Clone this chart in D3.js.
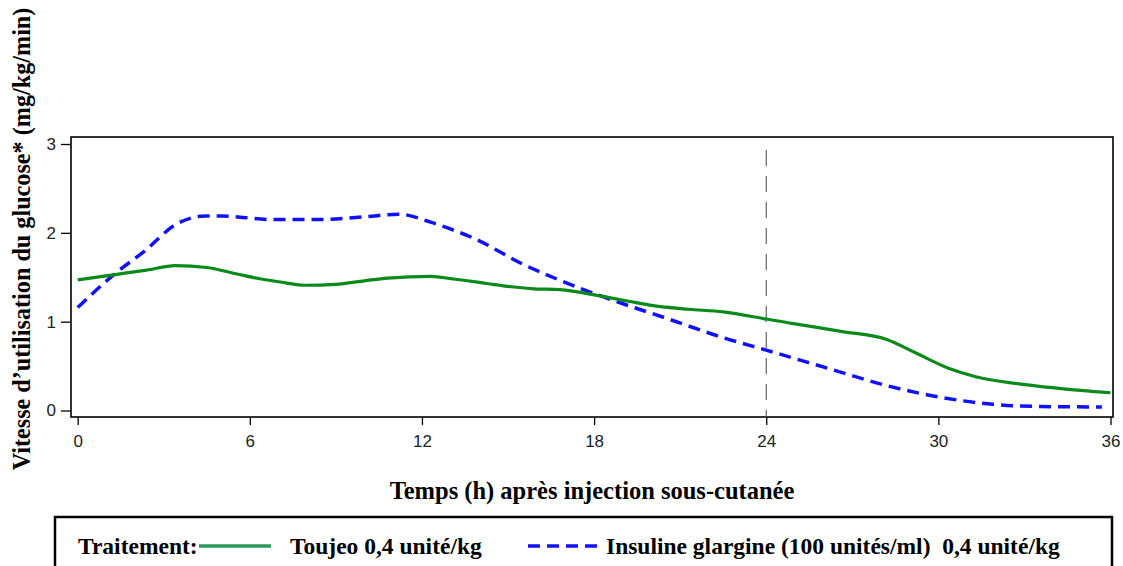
<!DOCTYPE html>
<html>
<head>
<meta charset="utf-8">
<script src="https://cdn.jsdelivr.net/npm/d3@7"></script>
<style>
  html, body { margin: 0; padding: 0; background: #fff; }
  svg { display: block; }
</style>
</head>
<body>
<svg id="chart" width="1123" height="566"></svg>
<script>
// ---- data ----
const toujeoHours  = [0, 1.3, 2.4, 3.4, 4.5, 5.5, 6.4, 7.2, 7.9, 9.0, 10.0, 10.8, 12.3, 13.1, 14.25, 15.2, 15.9, 16.8, 18.2, 19.2, 20.06, 21.3, 22.5, 24.0, 24.9, 25.5, 26.6, 28.2, 29.2, 30.4, 31.3, 32.8, 34.2, 36.0];
const toujeoValues = [1.47, 1.53, 1.58, 1.63, 1.61, 1.54, 1.48, 1.44, 1.41, 1.42, 1.46, 1.49, 1.51, 1.48, 1.43, 1.39, 1.37, 1.36, 1.29, 1.23, 1.18, 1.14, 1.11, 1.03, 0.98, 0.95, 0.89, 0.80, 0.65, 0.47, 0.38, 0.30, 0.25, 0.20];

const glargineHours  = [0, 1.3, 2.35, 3.4, 4.45, 5.0, 6.75, 8.5, 10.0, 11.2, 12.3, 13.1, 13.8, 15.5, 16.7, 18.4, 20.5, 22.5, 24.0, 26.1, 28.2, 30.05, 31.9, 33.6, 35.7];
const glargineValues = [1.16, 1.54, 1.80, 2.09, 2.19, 2.19, 2.15, 2.15, 2.18, 2.21, 2.12, 2.03, 1.94, 1.65, 1.48, 1.27, 1.04, 0.82, 0.68, 0.48, 0.28, 0.15, 0.07, 0.045, 0.04];

const xTicks = [0, 6, 12, 18, 24, 30, 36];
const yTicks = [0, 1, 2, 3];
const refLineHour = 24;

const seriesNames = ["Toujeo 0,4 unité/kg", "Insuline glargine (100 unités/ml)  0,4 unité/kg"];
const legendTitle = "Traitement:";
const xTitle = "Temps (h) après injection sous-cutanée";
const yTitle = "Vitesse d\u2019utilisation du glucose* (mg/kg/min)";

// ---- layout ----
const svg = d3.select("#chart");
const frame = { left: 71, right: 1113, top: 137, bottom: 417 };
const x = d3.scaleLinear().domain([0, 36]).range([77.7, 1110.5]);
const y = d3.scaleLinear().domain([0, 3]).range([410.5, 144]);

const serif = "'Liberation Serif', 'Times New Roman', serif";
const sans = "'Liberation Sans', Arial, sans-serif";

// frame
svg.append("rect")
  .attr("x", frame.left).attr("y", frame.top)
  .attr("width", frame.right - frame.left).attr("height", frame.bottom - frame.top)
  .attr("fill", "none").attr("stroke", "#000").attr("stroke-width", 1.6);

// axes
const yAxis = d3.axisLeft(y).tickValues(yTicks).tickSize(10).tickPadding(5).tickFormat(d3.format("d"));
const gy = svg.append("g").attr("transform", `translate(${frame.left},0)`).call(yAxis);
gy.select(".domain").remove();
gy.selectAll("line").attr("stroke", "#000").attr("stroke-width", 1.3);
gy.selectAll("text").attr("font-family", sans).attr("font-size", 17).attr("fill", "#222");

const xAxis = d3.axisBottom(x).tickValues(xTicks).tickSize(8).tickPadding(10).tickFormat(d3.format("d"));
const gx = svg.append("g").attr("transform", `translate(0,${frame.bottom})`).call(xAxis);
gx.select(".domain").remove();
gx.selectAll("line").attr("stroke", "#000").attr("stroke-width", 1.3);
gx.selectAll("text").attr("font-family", sans).attr("font-size", 17).attr("fill", "#222");

// reference line
svg.append("line")
  .attr("x1", x(refLineHour)).attr("x2", x(refLineHour))
  .attr("y1", 150).attr("y2", frame.bottom)
  .attr("stroke", "#555").attr("stroke-width", 1.1)
  .attr("stroke-dasharray", "16,10");

// lines
const line = d3.line().x(d => x(d[0])).y(d => y(d[1])).curve(d3.curveMonotoneX);
const toujeo = toujeoHours.map((h, i) => [h, toujeoValues[i]]);
const glargine = glargineHours.map((h, i) => [h, glargineValues[i]]);

svg.append("path").datum(glargine).attr("d", line)
  .attr("fill", "none").attr("stroke", "#1010ff").attr("stroke-width", 3.5)
  .attr("stroke-dasharray", "12,7");
svg.append("path").datum(toujeo).attr("d", line)
  .attr("fill", "none").attr("stroke", "#0a8a1a").attr("stroke-width", 3.2);

// titles
svg.append("text")
  .attr("x", 592).attr("y", 499)
  .attr("text-anchor", "middle")
  .attr("font-family", serif).attr("font-weight", "bold").attr("font-size", 24.5)
  .text(xTitle);

svg.append("text")
  .attr("transform", "translate(30,239) rotate(-90)")
  .attr("text-anchor", "middle")
  .attr("font-family", serif).attr("font-weight", "bold").attr("font-size", 24.2)
  .text(yTitle);

// legend
const lg = svg.append("g");
lg.append("rect")
  .attr("x", 55).attr("y", 517).attr("width", 1057).attr("height", 60)
  .attr("fill", "#fff").attr("stroke", "#000").attr("stroke-width", 2.5);
const legendY = 554;
const fs = 23.5;
lg.append("text").attr("x", 78).attr("y", legendY)
  .attr("font-family", serif).attr("font-weight", "bold").attr("font-size", fs)
  .text(legendTitle);
lg.append("line").attr("x1", 199).attr("x2", 271).attr("y1", 546).attr("y2", 546)
  .attr("stroke", "#2e9a5a").attr("stroke-width", 3.5);
lg.append("text").attr("x", 290).attr("y", legendY)
  .attr("font-family", serif).attr("font-weight", "bold").attr("font-size", fs)
  .text(seriesNames[0]);
lg.append("line").attr("x1", 528).attr("x2", 602).attr("y1", 546).attr("y2", 546)
  .attr("stroke", "#1010ff").attr("stroke-width", 3.5).attr("stroke-dasharray", "12,7");
lg.append("text").attr("x", 606).attr("y", legendY)
  .attr("font-family", serif).attr("font-weight", "bold").attr("font-size", fs)
  .attr("xml:space", "preserve").style("white-space", "pre")
  .text(seriesNames[1]);
</script>
</body>
</html>
